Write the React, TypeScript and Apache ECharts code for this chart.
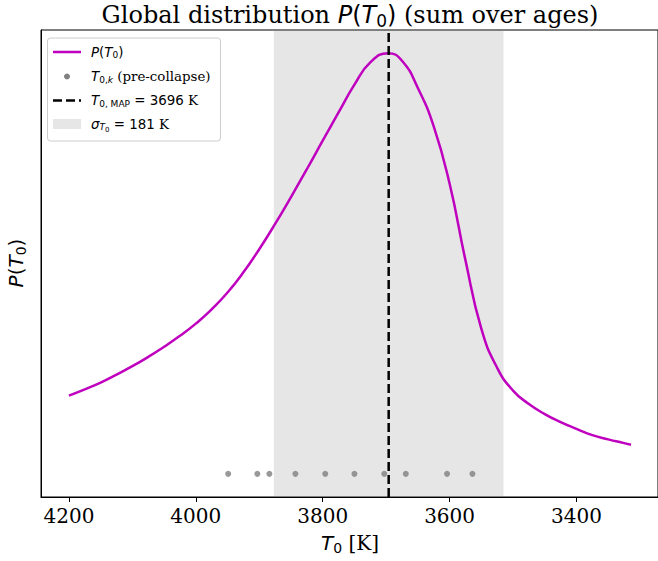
import React, { useEffect, useRef } from "react";
import * as echarts from "echarts";

// Global temperature distribution P(T0), summed over ages (peak-normalised)
const temperatures = [
  4200, 4175, 4150, 4125, 4100, 4075, 4050, 4025, 4000, 3975, 3950, 3925, 3900,
  3875, 3850, 3825, 3800, 3775, 3750, 3725, 3697, 3675, 3650, 3625, 3600, 3575,
  3550, 3525, 3500, 3475, 3450, 3425, 3400, 3375, 3350, 3325, 3314,
];
const probability = [
  0.186, 0.201, 0.217, 0.236, 0.256, 0.278, 0.302, 0.328, 0.357, 0.391, 0.431,
  0.479, 0.534, 0.594, 0.658, 0.724, 0.792, 0.859, 0.925, 0.978, 1.0, 0.982,
  0.917, 0.826, 0.69, 0.508, 0.345, 0.252, 0.198, 0.166, 0.142, 0.123, 0.107,
  0.092, 0.082, 0.073, 0.069,
];

// Individual pre-collapse temperatures T0,k
const preCollapseT = [3949, 3903, 3884, 3843, 3796, 3750, 3703, 3669, 3604, 3564];

// Maximum a-posteriori estimate and its spread
const tMap = 3696;
const sigmaT = 181;

const xTicks = [4200, 4000, 3800, 3600, 3400];

const X_MIN = 3271.5;
const X_MAX = 4244;
const Y_MIN = -0.055;
const Y_MAX = 1.055;

const MAGENTA = "#bf00bf";
const SERIF = "DejaVu Serif";
const SANS = "DejaVu Sans";

function mathStyles(size: number) {
  const sub = Math.round(size * 0.7);
  const subsub = Math.round(size * 0.5);
  const shift = Math.round(size * 0.45);
  return {
    i: { fontFamily: SANS, fontStyle: "italic", fontSize: size, fill: "#000" },
    r: { fontFamily: SANS, fontSize: size, fill: "#000" },
    t: { fontFamily: SERIF, fontSize: size, fill: "#000" },
    s: { fontFamily: SANS, fontSize: sub, fill: "#000", padding: [shift, 0, 0, 0] },
    si: {
      fontFamily: SANS,
      fontStyle: "italic",
      fontSize: sub,
      fill: "#000",
      padding: [shift, 0, 0, 0],
    },
    ss: {
      fontFamily: SANS,
      fontSize: subsub,
      fill: "#000",
      padding: [Math.round(shift * 1.9), 0, 0, 0],
    },
  };
}

export default function App() {
  const ref = useRef<HTMLDivElement>(null);

  useEffect(() => {
    if (!ref.current) return;
    const chart = echarts.init(ref.current, null, { renderer: "svg" });

    const curve = temperatures.map((t, i) => [t, probability[i]]);
    const dots = preCollapseT.map((t) => [t, 0]);

    const legendRows = [52, 76.5, 100.5, 124];
    const legendText = 13.4;

    chart.setOption({
      animation: false,
      backgroundColor: "#fff",
      grid: {
        left: 41,
        right: -2,
        top: 30,
        bottom: 64,
        show: true,
        borderColor: "#000",
        borderWidth: 1,
        backgroundColor: "transparent",
      },
      xAxis: {
        type: "value",
        inverse: true,
        min: X_MIN,
        max: X_MAX,
        axisLine: { show: true, onZero: false, lineStyle: { color: "#000", width: 1 } },
        axisTick: {
          show: true,
          customValues: xTicks,
          length: 5,
          lineStyle: { color: "#000", width: 1 },
        },
        axisLabel: {
          customValues: xTicks,
          formatter: (v: number) => String(v),
          fontFamily: SERIF,
          fontSize: 20,
          color: "#000",
          margin: 9,
        },
        splitLine: { show: false },
      },
      yAxis: {
        type: "value",
        min: Y_MIN,
        max: Y_MAX,
        axisLine: { show: true, onZero: false, lineStyle: { color: "#000", width: 1 } },
        axisTick: { show: false },
        axisLabel: { show: false },
        splitLine: { show: false },
      },
      series: [
        {
          name: "band",
          type: "line",
          data: [],
          z: 1,
          silent: true,
          markArea: {
            silent: true,
            itemStyle: { color: "rgba(128,128,128,0.2)" },
            data: [[{ xAxis: tMap + sigmaT }, { xAxis: tMap - sigmaT }]],
          },
        },
        {
          name: "P(T0)",
          type: "line",
          data: curve,
          z: 3,
          showSymbol: false,
          smooth: 0.5,
          lineStyle: { color: MAGENTA, width: 2.5 },
        },
        {
          name: "T0,k",
          type: "scatter",
          data: dots,
          z: 4,
          symbolSize: 6,
          itemStyle: { color: "#808080" },
        },
        {
          name: "T0,MAP",
          type: "line",
          data: [
            [tMap, Y_MIN],
            [tMap, Y_MAX],
          ],
          z: 5,
          showSymbol: false,
          lineStyle: { color: "#000", width: 2.5, type: [9, 4] },
        },
      ],
      graphic: [
        {
          type: "text",
          x: 350,
          y: 15,
          style: {
            text: "{t|Global distribution }{i|P}{r|(}{i|T}{s|0}{r|)}{t| (sum over ages)}",
            align: "center",
            verticalAlign: "middle",
            rich: mathStyles(24),
          },
        },
        {
          type: "text",
          x: 350,
          y: 543,
          style: {
            text: "{i|T}{s|0}{t| [K]}",
            align: "center",
            verticalAlign: "middle",
            rich: mathStyles(20),
          },
        },
        {
          type: "text",
          x: 16,
          y: 263,
          rotation: Math.PI / 2,
          style: {
            text: "{i|P}{r|(}{i|T}{s|0}{r|)}",
            align: "center",
            verticalAlign: "middle",
            rich: mathStyles(20),
          },
        },
        // legend
        {
          type: "rect",
          shape: { x: 47.5, y: 38, width: 173, height: 103, r: 3 },
          style: { fill: "rgba(255,255,255,0.8)", stroke: "#cccccc", lineWidth: 1 },
          z: 10,
        },
        {
          type: "line",
          shape: { x1: 53, y1: legendRows[0], x2: 81, y2: legendRows[0] },
          style: { stroke: MAGENTA, lineWidth: 2.5 },
          z: 11,
        },
        {
          type: "text",
          x: 91,
          y: legendRows[0],
          z: 11,
          style: {
            text: "{i|P}{r|(}{i|T}{s|0}{r|)}",
            verticalAlign: "middle",
            rich: mathStyles(legendText),
          },
        },
        {
          type: "circle",
          shape: { cx: 67, cy: legendRows[1], r: 3 },
          style: { fill: "#808080" },
          z: 11,
        },
        {
          type: "text",
          x: 91,
          y: legendRows[1],
          z: 11,
          style: {
            text: "{i|T}{s|0,}{si|k}{t| (pre-collapse)}",
            verticalAlign: "middle",
            rich: mathStyles(legendText),
          },
        },
        {
          type: "line",
          shape: { x1: 53, y1: legendRows[2], x2: 81, y2: legendRows[2] },
          style: { stroke: "#000", lineWidth: 2.5, lineDash: [9, 4] },
          z: 11,
        },
        {
          type: "text",
          x: 91,
          y: legendRows[2],
          z: 11,
          style: {
            text: "{i|T}{s|0, MAP}{r| = " + tMap + "}{t| K}",
            verticalAlign: "middle",
            rich: mathStyles(legendText),
          },
        },
        {
          type: "rect",
          shape: { x: 53, y: legendRows[3] - 5, width: 28, height: 10 },
          style: { fill: "rgba(128,128,128,0.2)" },
          z: 11,
        },
        {
          type: "text",
          x: 91,
          y: legendRows[3],
          z: 11,
          style: {
            text: "{i|σ}{si|T}{ss|0}{r| = " + sigmaT + "}{t| K}",
            verticalAlign: "middle",
            rich: mathStyles(legendText),
          },
        },
      ],
    });

    return () => chart.dispose();
  }, []);

  return (
    <div
      ref={ref}
      style={{ position: "fixed", left: 0, top: 0, width: 658, height: 561 }}
    />
  );
}
